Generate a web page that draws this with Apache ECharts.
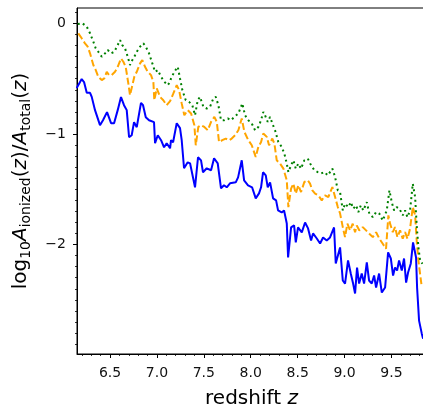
<!DOCTYPE html>
<html>
<head>
<meta charset="utf-8">
<script src="https://cdn.jsdelivr.net/npm/echarts@6/dist/echarts.min.js"></script>
<style>html,body{margin:0;padding:0;background:#fff}#c{width:423px;height:407px}</style>
</head>
<body>
<div id="c"></div>
<script>
// ---- data ----
const blueZ = [6.145,6.198,6.223,6.252,6.287,6.305,6.340,6.393,6.425,6.468,
6.511,6.543,6.582,6.617,6.649,6.678,6.703,6.731,6.756,6.785,
6.799,6.830,6.852,6.881,6.916,6.969,6.980,7.009,7.044,7.076,
7.104,7.140,7.150,7.172,7.211,7.246,7.264,7.289,7.328,7.353,
7.406,7.438,7.470,7.491,7.531,7.577,7.609,7.648,7.683,7.715,
7.744,7.779,7.840,7.865,7.904,7.929,7.971,8.014,8.053,8.088,
8.110,8.131,8.160,8.181,8.206,8.238,8.270,8.291,8.330,8.355,
8.384,8.398,8.430,8.462,8.480,8.504,8.544,8.579,8.611,8.643,
8.664,8.704,8.739,8.771,8.810,8.845,8.888,8.906,8.952,8.981,
9.005,9.037,9.066,9.091,9.112,9.133,9.155,9.183,9.208,9.237,
9.261,9.290,9.315,9.336,9.368,9.397,9.432,9.464,9.493,9.517,
9.538,9.560,9.581,9.610,9.634,9.656,9.677,9.706,9.730,9.762,
9.773,9.794,9.823,9.837];
const blueY = [-0.585,-0.503,-0.530,-0.627,-0.627,-0.664,-0.784,-0.920,-0.875,-0.802,
-0.902,-0.902,-0.784,-0.666,-0.739,-0.784,-1.029,-1.011,-0.893,-0.938,
-0.920,-0.718,-0.739,-0.848,-0.875,-0.893,-1.083,-1.011,-1.056,-1.120,
-1.083,-1.129,-1.056,-1.074,-0.902,-0.947,-1.056,-1.310,-1.256,-1.265,
-1.482,-1.210,-1.238,-1.346,-1.310,-1.328,-1.219,-1.265,-1.491,-1.464,
-1.482,-1.446,-1.437,-1.392,-1.238,-1.419,-1.464,-1.482,-1.582,-1.537,
-1.482,-1.346,-1.374,-1.482,-1.437,-1.582,-1.600,-1.691,-1.709,-1.691,
-1.809,-2.117,-1.845,-1.827,-1.981,-1.845,-1.890,-1.800,-1.854,-1.963,
-1.899,-1.945,-1.990,-1.936,-1.963,-1.936,-1.845,-2.171,-2.026,-2.325,
-2.353,-2.144,-2.262,-2.353,-2.443,-2.208,-2.353,-2.262,-2.353,-2.162,
-2.325,-2.353,-2.280,-2.389,-2.262,-2.434,-2.389,-2.071,-2.126,-2.280,
-2.208,-2.235,-2.144,-2.235,-2.126,-2.344,-2.253,-2.171,-1.981,-2.117,
-2.389,-2.688,-2.806,-2.851];

const orangeZ = [6.162,6.198,6.233,6.262,6.287,6.322,6.348,6.375,6.412,6.439,
6.465,6.489,6.518,6.553,6.582,6.617,6.642,6.667,6.695,6.713,
6.738,6.759,6.785,6.820,6.844,6.873,6.902,6.937,6.962,6.972,
6.998,7.033,7.068,7.104,7.140,7.175,7.211,7.236,7.264,7.292,
7.328,7.364,7.399,7.414,7.441,7.470,7.505,7.542,7.577,7.612,
7.638,7.662,7.697,7.733,7.769,7.797,7.833,7.868,7.904,7.932,
7.974,8.011,8.053,8.081,8.110,8.134,8.171,8.195,8.230,8.252,
8.277,8.312,8.348,8.384,8.401,8.430,8.454,8.480,8.507,8.536,
8.571,8.608,8.632,8.657,8.686,8.721,8.757,8.792,8.827,8.870,
8.899,8.928,8.952,8.981,9.005,9.030,9.059,9.087,9.112,9.130,
9.158,9.194,9.229,9.264,9.301,9.336,9.371,9.407,9.442,9.467,
9.485,9.514,9.538,9.563,9.592,9.620,9.645,9.670,9.698,9.727,
9.752,9.770,9.787,9.805,9.823];
const orangeY = [-0.089,-0.134,-0.180,-0.210,-0.270,-0.376,-0.422,-0.482,-0.512,-0.497,
-0.437,-0.467,-0.467,-0.437,-0.392,-0.316,-0.346,-0.392,-0.542,-0.648,
-0.558,-0.482,-0.437,-0.361,-0.331,-0.392,-0.437,-0.467,-0.528,-0.694,
-0.587,-0.664,-0.694,-0.739,-0.703,-0.633,-0.558,-0.603,-0.723,-0.830,
-0.784,-0.814,-0.920,-1.102,-0.936,-0.920,-0.936,-0.966,-0.890,-0.845,
-0.890,-1.072,-1.056,-1.041,-1.056,-1.041,-1.011,-0.966,-0.859,-0.981,
-1.056,-1.102,-1.208,-1.117,-1.072,-0.995,-1.026,-1.102,-1.041,-1.086,
-1.238,-1.267,-1.313,-1.419,-1.661,-1.494,-1.449,-1.539,-1.464,-1.525,
-1.434,-1.419,-1.449,-1.510,-1.539,-1.555,-1.600,-1.555,-1.570,-1.480,
-1.570,-1.661,-1.718,-1.842,-1.933,-1.811,-1.872,-1.811,-1.888,-1.827,
-1.872,-1.842,-1.872,-1.902,-1.933,-1.888,-1.947,-1.993,-2.038,-1.736,
-1.811,-1.888,-1.842,-1.933,-1.872,-1.947,-1.888,-1.947,-1.857,-1.661,
-1.736,-1.978,-2.144,-2.265,-2.386];

const greenZ = [6.156,6.205,6.252,6.287,6.322,6.348,6.375,6.412,6.447,6.475,
6.511,6.546,6.582,6.607,6.631,6.660,6.689,6.713,6.738,6.759,
6.785,6.820,6.855,6.881,6.916,6.951,6.980,7.009,7.044,7.079,
7.115,7.140,7.150,7.186,7.222,7.246,7.271,7.307,7.342,7.377,
7.406,7.435,7.459,7.495,7.531,7.566,7.601,7.627,7.655,7.683,
7.719,7.755,7.790,7.825,7.868,7.910,7.939,7.974,8.011,8.046,
8.081,8.110,8.134,8.152,8.181,8.206,8.230,8.259,8.294,8.330,
8.358,8.384,8.401,8.430,8.454,8.480,8.507,8.536,8.571,8.608,
8.643,8.678,8.714,8.749,8.785,8.821,8.870,8.899,8.928,8.952,
8.981,9.005,9.041,9.066,9.094,9.123,9.147,9.173,9.200,9.237,
9.264,9.301,9.336,9.371,9.407,9.450,9.478,9.503,9.528,9.556,
9.584,9.620,9.645,9.670,9.698,9.727,9.752,9.770,9.787,9.805,
9.830];
const greenY = [-0.005,0.002,-0.029,-0.089,-0.165,-0.225,-0.256,-0.301,-0.270,-0.240,
-0.270,-0.256,-0.195,-0.150,-0.195,-0.225,-0.301,-0.376,-0.331,-0.301,
-0.256,-0.210,-0.180,-0.210,-0.270,-0.361,-0.437,-0.422,-0.482,-0.528,
-0.558,-0.528,-0.497,-0.437,-0.392,-0.497,-0.603,-0.694,-0.709,-0.739,
-0.830,-0.694,-0.664,-0.754,-0.769,-0.754,-0.678,-0.664,-0.739,-0.875,
-0.875,-0.859,-0.875,-0.845,-0.814,-0.723,-0.830,-0.875,-0.905,-0.966,
-0.936,-0.875,-0.800,-0.830,-0.890,-0.845,-0.905,-0.966,-1.072,-1.117,
-1.177,-1.267,-1.344,-1.283,-1.238,-1.313,-1.267,-1.313,-1.238,-1.222,
-1.283,-1.328,-1.344,-1.358,-1.344,-1.374,-1.313,-1.389,-1.510,-1.525,
-1.691,-1.630,-1.661,-1.616,-1.675,-1.646,-1.706,-1.646,-1.691,-1.616,
-1.721,-1.752,-1.706,-1.721,-1.782,-1.691,-1.510,-1.616,-1.691,-1.661,
-1.675,-1.736,-1.691,-1.752,-1.691,-1.449,-1.570,-1.842,-2.024,-2.144,
-2.174];

const xTicks = [6.5, 7.0, 7.5, 8.0, 8.5, 9.0, 9.5];
const yTicks = [0, -1, -2];

// ---- chart ----
const X_MIN = 6.148, X_MAX = 9.868, Y_MIN = -2.99, Y_MAX = 0.14;
const xMinor = [], yMinor = [];
for (let k = 62; k <= 98; k++) { if (k % 5 !== 0) xMinor.push(k / 10); }
for (let k = -29; k <= 1; k++) { if (k % 10 !== 0) yMinor.push(k / 10); }

const zip = (a, b) => a.map((v, i) => [v, b[i]]);
const FONT = 'DejaVu Sans';
const tickLabel = { color: '#111', fontSize: 14, fontFamily: FONT };
const fmtMinus = v => String(v).replace('-', '\u2212');

const chart = echarts.init(document.getElementById('c'), null, { renderer: 'canvas' });
chart.setOption({
  animation: false,
  backgroundColor: '#fff',
  grid: { left: 77, top: 8, right: -3, bottom: 53, containLabel: false, outerBoundsMode: 'none',
          show: true, borderColor: '#000', borderWidth: 1, backgroundColor: 'transparent' },
  xAxis: [
    {
      type: 'value', min: X_MIN, max: X_MAX, position: 'bottom',
      axisLine: { show: true, onZero: false, lineStyle: { color: '#000', width: 1 } },
      axisTick: { show: true, length: 4, customValues: xTicks, lineStyle: { color: '#000', width: 1 } },
      axisLabel: { customValues: xTicks, margin: 12, formatter: v => v.toFixed(1), ...tickLabel },
      splitLine: { show: false },
      name: '{n|redshift }{i|z}', nameLocation: 'middle', nameGap: 35,
      nameTextStyle: { rich: {
        n: { fontSize: 20, fontFamily: FONT, color: '#000' },
        i: { fontSize: 20, fontFamily: FONT, fontStyle: 'italic', color: '#000' } } }
    },
    {
      type: 'value', min: X_MIN, max: X_MAX, position: 'bottom',
      axisLine: { show: false, onZero: false },
      axisTick: { show: true, length: 2, customValues: xMinor, lineStyle: { color: '#000', width: 0.8 } },
      axisLabel: { show: false }, splitLine: { show: false }
    }
  ],
  yAxis: [
    {
      type: 'value', min: Y_MIN, max: Y_MAX, position: 'left',
      axisLine: { show: true, onZero: false, lineStyle: { color: '#000', width: 1 } },
      axisTick: { show: true, length: 4, customValues: yTicks, lineStyle: { color: '#000', width: 1 } },
      axisLabel: { customValues: yTicks, margin: 11, formatter: fmtMinus, ...tickLabel },
      splitLine: { show: false },
      name: '{n|log}{s|10}{i|A}{s|ionized}{n|(}{i|z}{n|)/}{i|A}{s|total}{n|(}{i|z}{n|)}',
      nameLocation: 'middle', nameGap: 43, nameRotate: 90,
      nameTextStyle: { rich: {
        n: { fontSize: 20, fontFamily: FONT, color: '#000', lineHeight: 26 },
        i: { fontSize: 20, fontFamily: FONT, fontStyle: 'italic', color: '#000', lineHeight: 26 },
        s: { fontSize: 14, fontFamily: FONT, color: '#000', lineHeight: 26, padding: [10, 0, 0, 0] } } }
    },
    {
      type: 'value', min: Y_MIN, max: Y_MAX, position: 'left',
      axisLine: { show: false, onZero: false },
      axisTick: { show: true, length: 2, customValues: yMinor, lineStyle: { color: '#000', width: 0.8 } },
      axisLabel: { show: false }, splitLine: { show: false }
    }
  ],
  series: [
    { type: 'line', data: zip(blueZ, blueY), showSymbol: false, clip: true,
      lineStyle: { color: '#0000ff', width: 2 } },
    { type: 'line', data: zip(orangeZ, orangeY), showSymbol: false, clip: true,
      lineStyle: { color: '#ffa500', width: 2, type: [7, 3] } },
    { type: 'line', data: zip(greenZ, greenY), showSymbol: false, clip: true,
      lineStyle: { color: '#008000', width: 2, type: [2, 3.3] } }
  ]
});
</script>
</body>
</html>
